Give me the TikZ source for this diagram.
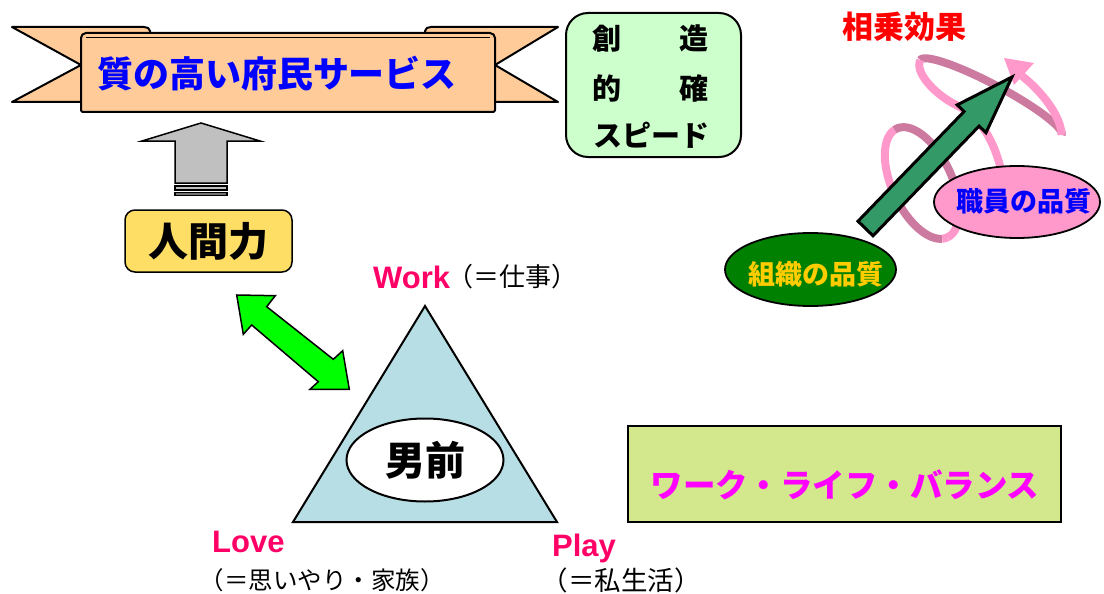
\documentclass[tikz,border=0pt]{standalone}
\usepackage{fontspec}
\newfontfamily\jp{Noto Sans CJK JP}
\newfontfamily\lat{Liberation Sans}
\usetikzlibrary{shapes.geometric}
\newcommand\fsz[1]{\fontsize{#1}{#1}\selectfont}
\definecolor{peach}{RGB}{255,204,153}
\definecolor{boxgreen}{RGB}{204,255,204}
\definecolor{arrowgray}{RGB}{192,192,192}
\definecolor{jinyellow}{RGB}{255,222,102}
\definecolor{brightgreen}{RGB}{0,255,0}
\definecolor{triblue}{RGB}{183,222,228}
\definecolor{lblpink}{RGB}{255,0,102}
\definecolor{wlbgreen}{RGB}{211,231,140}
\definecolor{wlbtext}{RGB}{255,0,255}
\definecolor{ringlt}{RGB}{255,153,204}
\definecolor{ringdk}{RGB}{204,122,160}
\definecolor{arrowgreen}{RGB}{51,153,102}
\definecolor{orggreen}{RGB}{0,128,0}
\definecolor{gold}{RGB}{255,204,0}
\definecolor{pureblue}{RGB}{0,0,255}
\definecolor{purered}{RGB}{255,0,0}
\begin{document}
\begin{tikzpicture}[x=1pt,y=-1pt,
  jt/.style={inner sep=0pt, font={\jp\bfseries\fsz{#1}}},
  jn/.style={inner sep=0pt, font={\jp\fsz{#1}}},
  lt/.style={inner sep=0pt, text=lblpink, font={\lat\bfseries\fsz{#1}}},
  outl/.style={draw=black, line width=2pt, line join=round},
  ringd/.style={draw=ringdk, line width=8pt},
  ringl/.style={draw=ringlt, line width=8pt},
  declare function={
    e1x(\t)=991+70.6*cos(\t)+6.1*sin(\t);
    e1y(\t)=97.5+37.5*cos(\t)-11.5*sin(\t);
    e2x(\t)=922+25.36*cos(\t)+27.19*sin(\t);
    e2y(\t)=183+54.38*cos(\t)-12.68*sin(\t);
  }]
\useasboundingbox (0,0) rectangle (1104,594);

% ---------- banner ----------
\filldraw[outl, fill=peach] (12,102) -- (81,65) -- (12,27) -- (144,27) to[out=0,in=90] (150,31) -- (150,102) -- cycle;
\filldraw[outl, fill=peach] (558,102) -- (495,65) -- (558,27) -- (431,27) to[out=180,in=90] (425,31) -- (425,102) -- cycle;
\filldraw[outl, fill=peach] (81,110) -- (81,38) to[out=90,in=180] (86,33) -- (490,33) to[out=0,in=90] (495,38) -- (495,110) to[out=-90,in=0] (493,112) -- (83,112) to[out=180,in=-90] cycle;
\draw[line width=1pt] (86,38) -- (490,38);
\node[jt=36, text=pureblue] (title) at (277,74) {質の高い府民サービス};

% ---------- green box ----------
\node[draw=black, line width=2pt, fill=boxgreen, rounded corners=22pt,
      minimum width=175pt, minimum height=144pt, inner sep=0pt] (csbox) at (653.5,85) {};
\node[jt=29] (cs1) at (650,38) {創\hspace{2em}造};
\node[jt=29] (cs2) at (650,88) {的\hspace{2em}確};
\node[jt=29] (cs3) at (651,135) {スピード};

% ---------- gray up arrow ----------
\filldraw[fill=arrowgray, draw=black, line width=1.5pt, line join=miter]
  (201,123) -- (260,141) -- (227,141) -- (227,183) -- (175,183) -- (175,141) -- (142,141) -- cycle;
\filldraw[fill=arrowgray, draw=black, line width=1.2pt] (175,186) rectangle (227,190);
\filldraw[fill=black!55, draw=black, line width=1.2pt] (175,192.5) rectangle (227,195.5);

% ---------- 人間力 ----------
\node[draw=black, line width=1.5pt, fill=jinyellow, rounded corners=10pt,
      minimum width=167pt, minimum height=62pt, inner sep=0pt, jt=40] (jinken) at (208.5,241) {人間力};

% ---------- green double arrow ----------
\filldraw[fill=brightgreen, draw=black, line width=1.5pt, line join=miter]
  (236.7,295) -- (275.3,295.7) -- (266.7,306.7) -- (333.3,359.3) -- (342.7,350.7)
  -- (349.3,389.3) -- (310,389.3) -- (318.3,381.7) -- (251.7,325) -- (243.3,334.3) -- cycle;

% ---------- triangle ----------
\coordinate (tA) at (425,306);
\coordinate (tL) at (293,522);
\coordinate (tR) at (557,522);
\filldraw[fill=triblue, draw=black, line width=2pt, line join=miter] (tA) -- (tL) -- (tR) -- cycle;
\node[ellipse, draw=black, line width=2pt, fill=white, minimum width=157pt, minimum height=83pt,
      inner sep=0pt, jt=40] (otoko) at (425,460) {男前};

% ---------- labels ----------
\node[lt=31, anchor=base west] (work) at (373,288) {Work};
\node[jn=26] (workj) at (512,277) {（＝仕事）};
\node[lt=31, anchor=base west] (love) at (212,552) {Love};
\node[jn=24.5] (lovej) at (322,580) {（＝思いやり・家族）};
\node[lt=31, anchor=base west] (play) at (552,556) {Play};
\node[jn=26.5] (playj) at (621,580) {（＝私生活）};

% ---------- work life balance ----------
\node[draw=black, line width=2.5pt, fill=wlbgreen, minimum width=433pt, minimum height=96pt,
      inner sep=0pt] (wlb) at (844.5,474) {};
\node[jt=32.5, text=wlbtext] (wlbt) at (845,485) {ワーク・ライフ・バランス};

% ---------- synergy ----------
\node[jt=31, text=purered] (synergy) at (904,27) {相乗効果};

% lower ring
\draw[ringl] plot[domain=0:80, samples=20, smooth] ({e2x(\x)},{e2y(\x)});
\draw[ringd] plot[domain=80:185, samples=25, smooth] ({e2x(\x)},{e2y(\x)});
\draw[ringl] plot[domain=185:265, samples=20, smooth] ({e2x(\x)},{e2y(\x)});
\draw[ringd] plot[domain=265:350, samples=20, smooth] ({e2x(\x)},{e2y(\x)});
\draw[ringl] plot[domain=350:360, samples=5, smooth] ({e2x(\x)},{e2y(\x)});
% upper ring
\draw[ringd] plot[domain=0:180, samples=40, smooth] ({e1x(\x)},{e1y(\x)});
\draw[ringl] ({e1x(180)},{e1y(180)}) .. controls (914,72) and (935,95) .. (958,106)
   .. controls (980,117) and (995,140) .. (1003,178);
\draw[ringl] ({e1x(0)},{e1y(0)}) .. controls (1061,115) and (1040,90) .. (1022,76);
\fill[ringlt] (1004,58) -- (1034,63) -- (1014,85) -- cycle;

% big green arrow
\filldraw[fill=arrowgreen, draw=black, line width=3pt, line join=miter]
  (858.0,221.2) -- (964.1,111.5) -- (957.2,104.9) -- (1012,77) -- (986.0,132.7)
  -- (979.1,126.1) -- (873.0,235.8) -- cycle;

% ellipses
\node[ellipse, draw=black, line width=1.8pt, fill=ringlt, minimum width=166pt, minimum height=72pt,
      inner sep=0pt] (shokuin) at (1017,202) {};
\node[jt=27, text=pureblue] (shokuint) at (1024,201) {職員の品質};
\node[ellipse, draw=black, line width=1.8pt, fill=orggreen, minimum width=171pt, minimum height=73pt,
      inner sep=0pt] (soshiki) at (810.5,269.5) {};
\node[jt=27, text=gold] (soshikit) at (816,274) {組織の品質};
\end{tikzpicture}
\end{document}
